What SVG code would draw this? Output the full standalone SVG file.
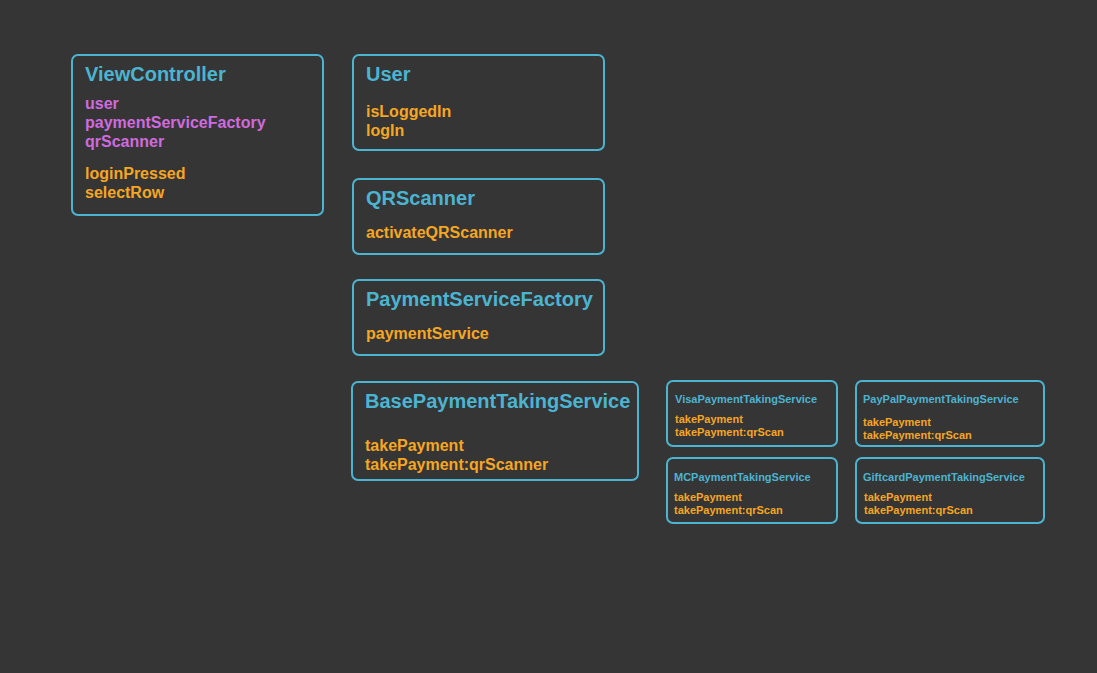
<svg xmlns="http://www.w3.org/2000/svg" width="1097" height="673" viewBox="0 0 1097 673">
<style>
.box{fill:#353535;stroke:#4bb4d1;stroke-width:2}
text{font-family:"Liberation Sans",Arial,sans-serif;font-weight:bold}
.t{fill:#4bb4d1;font-size:20px}
.ts{fill:#4bb4d1;font-size:11px}
.p{fill:#cf6adf;font-size:16px}
.m{fill:#f5a623;font-size:16px}
.ms{fill:#f5a623;font-size:11px}
</style>
<rect width="1097" height="673" fill="#353535"/>
<g id="connectors"/>
<g id="ViewController">
<rect class="box" x="72" y="55" width="251" height="160" rx="6"/>
<text class="t" x="85" y="81">ViewController</text>
<text class="p" x="85" y="109">user</text>
<text class="p" x="85" y="128">paymentServiceFactory</text>
<text class="p" x="85" y="147">qrScanner</text>
<text class="m" x="85" y="179">loginPressed</text>
<text class="m" x="85" y="198">selectRow</text>
</g>
<g id="User">
<rect class="box" x="353" y="55" width="251" height="95" rx="6"/>
<text class="t" x="366" y="81">User</text>
<text class="m" x="366" y="117">isLoggedIn</text>
<text class="m" x="366" y="136">logIn</text>
</g>
<g id="QRScanner">
<rect class="box" x="353" y="179" width="251" height="75" rx="6"/>
<text class="t" x="366" y="205">QRScanner</text>
<text class="m" x="366" y="238">activateQRScanner</text>
</g>
<g id="PaymentServiceFactory">
<rect class="box" x="353" y="280" width="251" height="75" rx="6"/>
<text class="t" x="366" y="306">PaymentServiceFactory</text>
<text class="m" x="366" y="339">paymentService</text>
</g>
<g id="BasePaymentTakingService">
<rect class="box" x="352" y="382" width="286" height="98" rx="6"/>
<text class="t" x="365" y="408">BasePaymentTakingService</text>
<text class="m" x="365" y="451">takePayment</text>
<text class="m" x="365" y="470">takePayment:qrScanner</text>
</g>
<g id="VisaPaymentTakingService">
<rect class="box" x="667" y="381" width="170" height="65" rx="6"/>
<text class="ts" x="675" y="403">VisaPaymentTakingService</text>
<text class="ms" x="675" y="423">takePayment</text>
<text class="ms" x="675" y="436">takePayment:qrScan</text>
</g>
<g id="PayPalPaymentTakingService">
<rect class="box" x="856" y="381" width="188" height="65" rx="6"/>
<text class="ts" x="863" y="403">PayPalPaymentTakingService</text>
<text class="ms" x="863" y="426">takePayment</text>
<text class="ms" x="863" y="439">takePayment:qrScan</text>
</g>
<g id="MCPaymentTakingService">
<rect class="box" x="667" y="458" width="170" height="65" rx="6"/>
<text class="ts" x="674" y="481">MCPaymentTakingService</text>
<text class="ms" x="674" y="501">takePayment</text>
<text class="ms" x="674" y="514">takePayment:qrScan</text>
</g>
<g id="GiftcardPaymentTakingService">
<rect class="box" x="856" y="458" width="188" height="65" rx="6"/>
<text class="ts" x="863" y="481">GiftcardPaymentTakingService</text>
<text class="ms" x="864" y="501">takePayment</text>
<text class="ms" x="864" y="514">takePayment:qrScan</text>
</g>
</svg>
